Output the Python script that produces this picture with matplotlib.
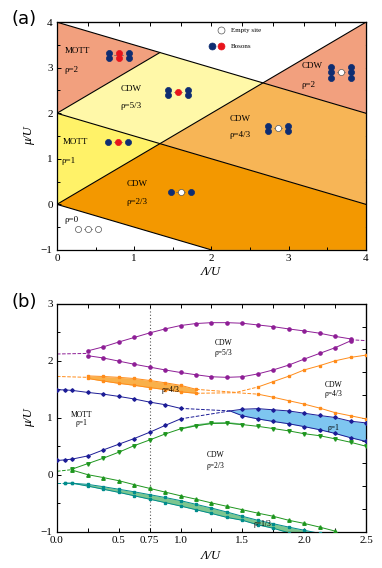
import matplotlib
matplotlib.use("Agg")
import matplotlib.pyplot as plt
from matplotlib.transforms import ScaledTranslation
from matplotlib.ticker import MultipleLocator, FixedLocator, FixedFormatter

plt.rcParams['font.family'] = ['Liberation Serif', 'DejaVu Serif']

# ================= panel (a) data : phase regions (Λ/U , μ/U) =================
mott2_x, mott2_y = [0, 0, 4/3], [4, 2, 10/3]
cdw53_x, cdw53_y = [0, 4/3, 8/3, 4/3], [2, 10/3, 8/3, 4/3]
mott1_x, mott1_y = [0, 0, 4/3], [0, 2, 4/3]
cdw43_x, cdw43_y = [4/3, 8/3, 4, 4], [4/3, 8/3, 2, 0]
cdw2_x, cdw2_y = [8/3, 4, 4], [8/3, 4, 2]
cdw23_x, cdw23_y = [0, 4/3, 4, 4, 2], [0, 4/3, 0, -1, -1]
# phase boundary segments (x0, x1, y0, y1)
bounds = [(0, 4, 4, 2), (0, 4, 0, 4), (0, 4, 2, 0), (0, 2, 0, -1), (0, 4/3, 2, 10/3)]

labels_a = [  # (x, y, text)
    (0.10, 3.36, "MOTT"), (0.10, 2.95, "ρ=2"),
    (0.82, 2.54, "CDW"), (0.82, 2.15, "ρ=5/3"),
    (0.08, 1.37, "MOTT"), (0.06, 0.96, "ρ=1"),
    (0.90, 0.45, "CDW"), (0.90, 0.05, "ρ=2/3"),
    (0.10, -0.34, "ρ=0"),
    (3.17, 3.04, "CDW"), (3.17, 2.62, "ρ=2"),
    (2.23, 1.87, "CDW"), (2.23, 1.52, "ρ=4/3"),
]
# icons: centre (x, y) and columns of site occupations (b=blue boson, r=red boson, w=empty)
icons = [
    (0.80, 3.27, [["b", "b"], ["r", "r"], ["b", "b"]]),
    (1.57, 2.46, [["b", "b"], ["r"], ["b", "b"]]),
    (0.79, 1.36, [["b"], ["r"], ["b"]]),
    (1.60, 0.27, [["b"], ["w"], ["b"]]),
    (0.40, -0.55, [["w"], ["w"], ["w"]]),
    (3.68, 2.90, [["b", "b", "b"], ["w"], ["b", "b", "b"]]),
    (2.86, 1.67, [["b", "b"], ["w"], ["b", "b"]]),
]

# ================= panel (b) data =================
purple_x = [0.25, 0.375, 0.5, 0.625, 0.75, 0.875, 1.0, 1.125, 1.25, 1.375, 1.5,
            1.625, 1.75, 1.875, 2.0, 2.125, 2.25, 2.375]
purple_up = [2.175, 2.245, 2.33, 2.41, 2.49, 2.56, 2.62, 2.655, 2.67, 2.67, 2.66,
             2.63, 2.60, 2.56, 2.525, 2.485, 2.43, 2.385]
purple_lo = [2.09, 2.05, 1.995, 1.94, 1.89, 1.84, 1.795, 1.755, 1.72, 1.71, 1.72,
             1.77, 1.84, 1.925, 2.03, 2.13, 2.23, 2.35]
purple_head_x, purple_head_y = [0.0, 0.25], [2.12, 2.13]
purple_tail_x, purple_tail_y = [2.375, 2.5], [2.37, 2.355]

orange_x = [0.25, 0.375, 0.5, 0.625, 0.75, 0.875, 1.0, 1.125]
orange_up = [1.735, 1.725, 1.71, 1.69, 1.655, 1.615, 1.57, 1.50]
orange_lo = [1.69, 1.645, 1.605, 1.57, 1.53, 1.495, 1.455, 1.43]
orange_head_x, orange_head_y = [0.0, 0.25], [1.725, 1.71]
orange_mid_up_x, orange_mid_up_y = [1.125, 1.45, 1.625], [1.50, 1.445, 1.54]
orange_mid_lo_x, orange_mid_lo_y = [1.125, 1.45, 1.625], [1.43, 1.44, 1.415]
orange2_x = [1.625, 1.75, 1.875, 2.0, 2.125, 2.25, 2.375, 2.5]
orange2_up = [1.54, 1.635, 1.73, 1.84, 1.915, 2.00, 2.06, 2.10]
orange2_lo = [1.415, 1.36, 1.30, 1.24, 1.17, 1.09, 1.035, 0.98]

blue_x = [0.0, 0.0625, 0.125, 0.25, 0.375, 0.5, 0.625, 0.75, 0.875, 1.0]
blue_up = [1.49, 1.49, 1.48, 1.445, 1.415, 1.375, 1.33, 1.275, 1.23, 1.165]
blue_lo = [0.25, 0.26, 0.275, 0.33, 0.435, 0.535, 0.635, 0.745, 0.865, 0.98]
blue_tip_x, blue_tip_y = 1.4, 1.12
bband_x = [1.5, 1.625, 1.75, 1.875, 2.0, 2.125, 2.25, 2.375, 2.5]
bband_up = [1.15, 1.16, 1.14, 1.12, 1.08, 1.04, 1.005, 0.94, 0.91]
bband_lo = [1.035, 0.98, 0.935, 0.895, 0.845, 0.79, 0.725, 0.65, 0.585]

green_head_x, green_head_y = [0.0, 0.125], [0.06, 0.09]
gdown_x = [0.125, 0.25, 0.375, 0.5, 0.625, 0.75, 0.875, 1.0, 1.125, 1.25, 1.375,
           1.5, 1.625, 1.75, 1.875, 2.0, 2.125, 2.25, 2.375, 2.5]
gdown_y = [0.10, 0.195, 0.29, 0.395, 0.51, 0.61, 0.715, 0.805, 0.86, 0.90, 0.905,
           0.88, 0.85, 0.81, 0.77, 0.72, 0.685, 0.63, 0.57, 0.50]
gband_x = [1.0, 1.125, 1.25, 1.375, 1.5]
gband_top = [0.83, 0.895, 0.93, 0.935, 0.905]
gup_x = [0.125, 0.25, 0.375, 0.5, 0.625, 0.75, 0.875, 1.0, 1.125, 1.25, 1.375,
         1.5, 1.625, 1.75, 1.875, 2.0, 2.125, 2.25]
gup_y = [0.08, 0.0, -0.05, -0.105, -0.175, -0.24, -0.305, -0.37, -0.43, -0.495,
         -0.555, -0.615, -0.675, -0.73, -0.80, -0.855, -0.92, -0.99]

teal_head_x, teal_head_y = [0.0, 0.0625], [-0.15, -0.15]
teal_x = [0.0625, 0.125, 0.25, 0.375, 0.5, 0.625, 0.75, 0.875, 1.0, 1.125, 1.25,
          1.375, 1.5, 1.625, 1.75, 1.875, 2.0, 2.125]
teal_up = [-0.15, -0.15, -0.17, -0.21, -0.255, -0.30, -0.35, -0.40, -0.455, -0.52,
           -0.585, -0.655, -0.73, -0.80, -0.86, -0.92, -0.975, -1.03]
teal_lo = [-0.15, -0.15, -0.20, -0.255, -0.31, -0.37, -0.43, -0.49, -0.55, -0.615,
           -0.68, -0.75, -0.80, -0.88, -0.94, -1.02, -1.08, -1.14]

labels_b = [
    (1.35, 2.31, "CDW"), (1.35, 2.13, "ρ=5/3"),
    (0.92, 1.49, "ρ=4/3"),
    (2.24, 1.58, "CDW"), (2.24, 1.42, "ρ=4/3"),
    (0.20, 1.05, "MOTT"), (0.20, 0.90, "ρ=1"),
    (2.24, 0.82, "ρ=1"),
    (1.28, 0.35, "CDW"), (1.28, 0.15, "ρ=2/3"),
    (1.66, -0.865, "ρ=1/3"),
]
xt_b_pos = [0, 0.25, 0.5, 0.75, 1.0, 1.25, 1.5, 1.75, 2.0, 2.25, 2.5]
xt_b_lab = ["0.0", "", "0.5", "0.75", "1.0", "", "1.5", "", "2.0", "", "2.5"]

# ================= styling =================
C_SALMON, C_LYEL, C_YEL, C_LORA, C_DORA = "#F2A07E", "#FFF8A8", "#FFF268", "#F7B556", "#F39800"
C_NAVY, C_RED = "#0E2D72", "#E8141C"
PURPLE, ORANGE, BLUE, GREEN, TEAL = "#8E1E96", "#FF8C1A", "#1C1C96", "#1E961E", "#008C8C"
F_ORANGE, F_BLUE, F_GREEN = "#F9B04A", "#7EC6F0", "#7CC690"

fig = plt.figure(figsize=(3.82, 5.68), dpi=100)
axa = fig.add_axes([0.149, 0.560, 0.809, 0.401])
axb = fig.add_axes([0.149, 0.064, 0.809, 0.401])


def style_ticks(ax):
    ax.tick_params(direction="in", length=3, width=0.7, labelsize=8, pad=3,
                   top=False, right=False)
    ax.tick_params(which="minor", direction="in", length=2, width=0.7,
                   top=False, right=False)
    for s in ax.spines.values():
        s.set_linewidth(0.9)


# ---------------- panel (a) ----------------
for xs, ys, c in [(mott2_x, mott2_y, C_SALMON), (cdw53_x, cdw53_y, C_LYEL),
                  (mott1_x, mott1_y, C_YEL), (cdw43_x, cdw43_y, C_LORA),
                  (cdw2_x, cdw2_y, C_SALMON), (cdw23_x, cdw23_y, C_DORA)]:
    axa.fill(xs, ys, color=c, lw=0, zorder=1)
for x0, x1, y0, y1 in bounds:
    axa.plot([x0, x1], [y0, y1], color="black", lw=0.8, zorder=2)
for x, y, t in labels_a:
    axa.text(x, y, t, fontsize=6.5, ha="left", va="center", zorder=4)


def site(ax, x, y, dx, dy, kind, ms=4.4):
    tr = ax.transData + ScaledTranslation(dx / 72, dy / 72, fig.dpi_scale_trans)
    fc = {"b": C_NAVY, "r": C_RED, "w": "white"}[kind]
    ec = {"b": C_NAVY, "r": C_RED, "w": "#555555"}[kind]
    ax.plot([x], [y], "o", transform=tr, ms=ms, mfc=fc, mec=ec, mew=0.5,
            zorder=6, clip_on=False)


colsep, rowsep = 7.2, 3.8
for cx, cy, cols in icons:
    n = len(cols)
    w = (n - 1) * colsep / 2 + 5
    p0 = axa.transData.transform((cx, cy))
    inv = axa.transData.inverted()
    xa = inv.transform((p0[0] - w * fig.dpi / 72, p0[1]))[0]
    xb = inv.transform((p0[0] + w * fig.dpi / 72, p0[1]))[0]
    axa.plot([xa, xb], [cy, cy], color="#666666", lw=0.5, zorder=5)
    for i, col in enumerate(cols):
        dx = (i - (n - 1) / 2) * colsep
        m = len(col)
        for j, k in enumerate(col):
            dy = ((m - 1) / 2 - j) * rowsep
            site(axa, cx, cy, dx, dy, k)

# legend
site(axa, 2.13, 3.82, 0, 0, "w", ms=5)
site(axa, 2.01, 3.47, 0, 0, "b", ms=5)
site(axa, 2.13, 3.47, 0, 0, "r", ms=5)
axa.text(2.25, 3.82, "Empty site", fontsize=5, va="center")
axa.text(2.25, 3.47, "Bosons", fontsize=5, va="center")

axa.set_xlim(0, 4)
axa.set_ylim(-1, 4)
axa.xaxis.set_major_locator(MultipleLocator(1))
axa.xaxis.set_minor_locator(MultipleLocator(0.5))
axa.yaxis.set_major_locator(MultipleLocator(1))
axa.yaxis.set_minor_locator(MultipleLocator(0.5))
style_ticks(axa)
ta = axa.secondary_xaxis("top")
ta.xaxis.set_major_locator(MultipleLocator(0.4))
ta.tick_params(direction="in", length=3, width=0.7, labeltop=False)
ra = axa.secondary_yaxis("right")
ra.yaxis.set_major_locator(MultipleLocator(0.5))
ra.tick_params(direction="in", length=3, width=0.7, labelright=False)
axa.set_xlabel("Λ/U", fontsize=9, style="italic", labelpad=2)
axa.set_ylabel("μ/U", fontsize=9, style="italic", labelpad=4)

# ---------------- panel (b) ----------------
lw, ms = 0.7, 2.3
axb.axvline(0.75, color="#555555", ls=(0, (1, 2)), lw=0.8, zorder=1)

# purple
axb.plot(purple_x, purple_up, "-o", color=PURPLE, lw=lw, ms=ms, zorder=3)
axb.plot(purple_x, purple_lo, "-o", color=PURPLE, lw=lw, ms=ms, zorder=3)
axb.plot(purple_head_x, purple_head_y, "--", color=PURPLE, lw=lw)
axb.plot(purple_tail_x, purple_tail_y, "--", color=PURPLE, lw=lw)

# orange
axb.fill_between(orange_x, orange_lo, orange_up, color=F_ORANGE, lw=0, zorder=2)
axb.plot(orange_x, orange_up, "-s", color=ORANGE, lw=lw, ms=2.1, zorder=3)
axb.plot(orange_x, orange_lo, "-s", color=ORANGE, lw=lw, ms=2.1, zorder=3)
axb.plot(orange_head_x, orange_head_y, "--", color=ORANGE, lw=lw)
axb.plot(orange_mid_up_x, orange_mid_up_y, "--", color=ORANGE, lw=lw)
axb.plot(orange_mid_lo_x, orange_mid_lo_y, "--", color=ORANGE, lw=lw)
axb.plot(orange2_x, orange2_up, "-s", color=ORANGE, lw=lw, ms=2.1, zorder=3)
axb.plot(orange2_x, orange2_lo, "-s", color=ORANGE, lw=lw, ms=2.1, zorder=3)

# blue
axb.plot(blue_x, blue_up, "-D", color=BLUE, lw=lw, ms=1.8, zorder=3)
axb.plot(blue_x, blue_lo, "-D", color=BLUE, lw=lw, ms=1.8, zorder=3)
axb.plot([blue_x[-1], blue_tip_x], [blue_up[-1], blue_tip_y], "--", color=BLUE, lw=lw)
axb.plot([blue_x[-1], blue_tip_x], [blue_lo[-1], blue_tip_y], "--", color=BLUE, lw=lw)
axb.fill_between([blue_tip_x] + bband_x, [blue_tip_y] + bband_lo, [blue_tip_y] + bband_up,
                 color=F_BLUE, lw=0, zorder=2)
axb.plot([blue_tip_x] + bband_x, [blue_tip_y] + bband_up, "-", color=BLUE, lw=lw, zorder=3)
axb.plot([blue_tip_x] + bband_x, [blue_tip_y] + bband_lo, "-", color=BLUE, lw=lw, zorder=3)
axb.plot(bband_x, bband_up, "D", color=BLUE, ms=1.8, zorder=3)
axb.plot(bband_x, bband_lo, "D", color=BLUE, ms=1.8, zorder=3)

# green
axb.plot(green_head_x, green_head_y, "--", color=GREEN, lw=lw)
axb.fill_between(gband_x, gdown_y[7:12], gband_top, color=F_GREEN, lw=0, zorder=2)
axb.plot(gdown_x, gdown_y, "-v", color=GREEN, lw=lw, ms=2.5, zorder=3)
axb.plot(gup_x, gup_y, "-^", color=GREEN, lw=lw, ms=2.5, zorder=3)

# teal
axb.plot(teal_head_x, teal_head_y, "--", color=TEAL, lw=lw)
axb.fill_between(teal_x, teal_lo, teal_up, color=F_GREEN, lw=0, zorder=2)
axb.plot(teal_x, teal_up, "-s", color=TEAL, lw=lw, ms=2.0, zorder=3)
axb.plot(teal_x, teal_lo, "-s", color=TEAL, lw=lw, ms=2.0, zorder=3)

for x, y, t in labels_b:
    axb.text(x, y, t, fontsize=5.5, ha="center", va="center", zorder=5)

axb.set_xlim(0, 2.5)
axb.set_ylim(-1, 3)
axb.xaxis.set_major_locator(FixedLocator(xt_b_pos))
axb.xaxis.set_major_formatter(FixedFormatter(xt_b_lab))
axb.yaxis.set_major_locator(MultipleLocator(1))
axb.yaxis.set_minor_locator(MultipleLocator(0.5))
style_ticks(axb)
tb = axb.secondary_xaxis("top")
tb.xaxis.set_major_locator(MultipleLocator(0.25))
tb.tick_params(direction="in", length=3, width=0.7, labeltop=False)
rb = axb.secondary_yaxis("right")
rb.yaxis.set_major_locator(FixedLocator([-0.6, -0.2, 0.2, 0.6, 1.0, 1.4, 1.8, 2.2, 2.6]))
rb.tick_params(direction="in", length=3, width=0.7, labelright=False)
axb.set_xlabel("Λ/U", fontsize=9, style="italic", labelpad=4)
axb.set_ylabel("μ/U", fontsize=9, style="italic", labelpad=4)

fig.text(0.03, 0.967, "(a)", fontsize=13, family="DejaVu Sans", va="center", ha="left")
fig.text(0.03, 0.469, "(b)", fontsize=13, family="DejaVu Sans", va="center", ha="left")

fig.savefig("out.png", dpi=100)
